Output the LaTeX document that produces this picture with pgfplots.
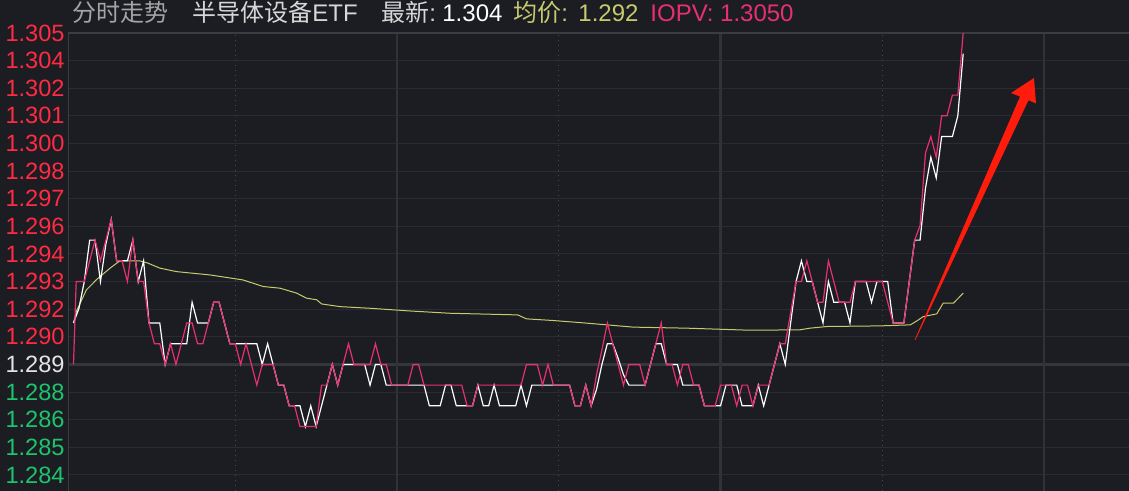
\documentclass[border=0pt]{standalone}
\usepackage{pgfplots}
\pgfplotsset{compat=1.18}
\usepackage{fontspec}
\setmainfont{Liberation Sans}
\newfontfamily\cjk{Noto Sans CJK SC}
\definecolor{bg}{RGB}{27,29,34}
\definecolor{gridc}{RGB}{42,44,49}
\definecolor{midc}{RGB}{52,54,59}
\definecolor{vgc}{RGB}{48,50,55}
\definecolor{dotc}{RGB}{70,72,76}
\definecolor{axc}{RGB}{58,60,64}
\definecolor{upc}{RGB}{255,42,68}
\definecolor{dnc}{RGB}{30,195,110}
\definecolor{midlab}{RGB}{228,228,228}
\definecolor{iopv}{RGB}{232,48,110}
\definecolor{avgc}{RGB}{200,202,110}
\definecolor{hdrgray}{RGB}{165,165,165}
\definecolor{hdrlight}{RGB}{215,215,215}
\definecolor{arrowc}{RGB}{255,28,12}
\begin{document}
\begin{tikzpicture}
\fill[bg] (0,0) rectangle (564.5pt,245.5pt);
\useasboundingbox (0,0) rectangle (564.5pt,245.5pt);
\begin{axis}[
  at={(34pt,0pt)}, anchor=south west, scale only axis,
  width=530.5pt, height=229pt,
  xmin=-1.02, xmax=195.75, ymin=1.282889, ymax=1.305,
  axis line style={draw=none},
  xtick=\empty,
  ytick={1.2836667,1.285,1.2863333,1.2876667,1.289,1.2903333,1.2916667,1.293,1.2943333,1.2956667,1.297,1.2983333,1.2996667,1.301,1.3023333,1.3036667,1.305},
  yticklabels={{\textcolor{dnc}{1.284}},{\textcolor{dnc}{1.285}},{\textcolor{dnc}{1.286}},{\textcolor{dnc}{1.288}},{\textcolor{midlab}{1.289}},{\textcolor{upc}{1.290}},{\textcolor{upc}{1.292}},{\textcolor{upc}{1.293}},{\textcolor{upc}{1.294}},{\textcolor{upc}{1.296}},{\textcolor{upc}{1.297}},{\textcolor{upc}{1.298}},{\textcolor{upc}{1.300}},{\textcolor{upc}{1.301}},{\textcolor{upc}{1.302}},{\textcolor{upc}{1.304}},{\textcolor{upc}{1.305}}},
  ymajorgrids, major grid style={draw=gridc, line width=0.5pt},
  major tick length=0pt,
  yticklabel style={font=\fontsize{11.8}{12}\selectfont, anchor=east, inner sep=0pt, xshift=-1.5pt},
  clip=true,
]
\draw[midc, line width=1.6pt] (axis cs:-1.02,1.289) -- (axis cs:195.75,1.289);
\draw[vgc, line width=1.3pt] (axis cs:60,1.282889) -- (axis cs:60,1.305);
\draw[vgc, line width=1.3pt] (axis cs:120,1.282889) -- (axis cs:120,1.305);
\draw[vgc, line width=1.3pt] (axis cs:180,1.282889) -- (axis cs:180,1.305);
\draw[dotc, line width=0.5pt, dash pattern=on 0.5pt off 2pt] (axis cs:30,1.282889) -- (axis cs:30,1.305);
\draw[dotc, line width=0.5pt, dash pattern=on 0.5pt off 2pt] (axis cs:90,1.282889) -- (axis cs:90,1.305);
\draw[dotc, line width=0.5pt, dash pattern=on 0.5pt off 2pt] (axis cs:150,1.282889) -- (axis cs:150,1.305);
\draw[axc, line width=1pt] (rel axis cs:0,0) -- (rel axis cs:0,1);
\draw[axc, line width=0.6pt] (rel axis cs:0,1) -- (rel axis cs:1,1);
% average price
\addplot[avgc, line width=0.5pt] coordinates {(0,1.2910)(0.6,1.2916)(2.4,1.2926)(4.3,1.2931)(6.8,1.29365)(8.6,1.2940)(12.3,1.2940)(13.8,1.29389)(16,1.29365)(19.1,1.29348)(25.3,1.29332)(31.4,1.29308)(35.2,1.29276)(38.3,1.29268)(41.4,1.29244)(43.2,1.2922)(45.1,1.29212)(46,1.29192)(49.4,1.29179)(55,1.29171)(62.4,1.29158)(69.8,1.29147)(82.4,1.29139)(84,1.2912)(88.9,1.29112)(93.9,1.29102)(98.9,1.29091)(103.8,1.2908)(113.7,1.29075)(125.5,1.29065)(134.7,1.29067)(136.6,1.29075)(139.7,1.29083)(149.6,1.29086)(155.2,1.29091)(156.4,1.2911)(157.6,1.29131)(160.1,1.29144)(161.3,1.29196)(163.2,1.29196)(165,1.29244)};
% price
\addplot[white, line width=0.6pt] coordinates {(0,1.291)(1,1.2917)(2,1.293)(3,1.295)(4,1.295)(5,1.293)(6,1.2948)(7,1.296)(8,1.294)(9,1.294)(10,1.294)(11,1.295)(12,1.293)(13,1.294)(14,1.291)(15,1.291)(16,1.291)(17,1.289)(18,1.290)(19,1.290)(20,1.290)(21,1.290)(22,1.292)(23,1.291)(24,1.291)(25,1.291)(26,1.292)(27,1.292)(28,1.291)(29,1.290)(30,1.290)(31,1.290)(32,1.290)(33,1.290)(34,1.290)(35,1.289)(36,1.290)(37,1.289)(38,1.288)(39,1.288)(40,1.287)(41,1.287)(42,1.287)(43,1.286)(44,1.287)(45,1.286)(46,1.287)(47,1.288)(48,1.289)(49,1.288)(50,1.289)(51,1.289)(52,1.289)(53,1.289)(54,1.289)(55,1.288)(56,1.289)(57,1.289)(58,1.288)(59,1.288)(60,1.288)(61,1.288)(62,1.288)(63,1.288)(64,1.288)(65,1.288)(66,1.287)(67,1.287)(68,1.287)(69,1.288)(70,1.288)(71,1.287)(72,1.287)(73,1.287)(74,1.287)(75,1.288)(76,1.287)(77,1.287)(78,1.288)(79,1.287)(80,1.287)(81,1.287)(82,1.287)(83,1.288)(84,1.287)(85,1.288)(86,1.288)(87,1.288)(88,1.288)(89,1.288)(90,1.288)(91,1.288)(92,1.288)(93,1.287)(94,1.287)(95,1.288)(96,1.287)(97,1.2878)(98,1.289)(99,1.290)(100,1.290)(101,1.2893)(102,1.2885)(103,1.288)(104,1.288)(105,1.288)(106,1.288)(107,1.289)(108,1.290)(109,1.290)(110,1.289)(111,1.289)(112,1.289)(113,1.288)(114,1.288)(115,1.288)(116,1.288)(117,1.287)(118,1.287)(119,1.287)(120,1.287)(121,1.288)(122,1.288)(123,1.288)(124,1.287)(125,1.287)(126,1.287)(127,1.288)(128,1.287)(129,1.288)(130,1.289)(131,1.290)(132,1.289)(133,1.291)(134,1.293)(135,1.294)(136,1.293)(137,1.293)(138,1.292)(139,1.291)(140,1.293)(141,1.292)(142,1.292)(143,1.292)(144,1.291)(145,1.293)(146,1.293)(147,1.293)(148,1.292)(149,1.293)(150,1.293)(151,1.293)(152,1.291)(153,1.291)(154,1.291)(155,1.293)(156,1.295)(157,1.295)(158,1.2975)(159,1.299)(160,1.298)(161,1.300)(162,1.300)(163,1.300)(164,1.301)(165,1.304)};
% IOPV
\addplot[iopv, line width=0.6pt] coordinates {(0,1.2890)(0.5,1.293)(2,1.293)(3,1.294)(4,1.295)(5,1.294)(6,1.295)(7,1.296)(8,1.294)(9,1.294)(10,1.293)(11,1.295)(12,1.293)(13,1.293)(14,1.291)(15,1.290)(16,1.290)(17,1.289)(18,1.290)(19,1.289)(20,1.290)(21,1.291)(22,1.291)(23,1.290)(24,1.290)(25,1.291)(26,1.292)(27,1.292)(28,1.291)(29,1.290)(30,1.290)(31,1.289)(32,1.290)(33,1.289)(34,1.288)(35,1.289)(36,1.289)(37,1.289)(38,1.288)(39,1.288)(40,1.287)(41,1.287)(42,1.286)(43,1.286)(44,1.286)(45,1.286)(46,1.288)(47,1.288)(48,1.289)(49,1.288)(50,1.289)(51,1.290)(52,1.289)(53,1.289)(54,1.289)(55,1.289)(56,1.290)(57,1.289)(58,1.289)(59,1.288)(60,1.288)(61,1.288)(62,1.288)(63,1.289)(64,1.289)(65,1.288)(66,1.288)(67,1.288)(68,1.288)(69,1.288)(70,1.288)(71,1.288)(72,1.288)(73,1.287)(74,1.287)(75,1.288)(76,1.288)(77,1.288)(78,1.288)(79,1.288)(80,1.288)(81,1.288)(82,1.288)(83,1.288)(84,1.289)(85,1.289)(86,1.289)(87,1.288)(88,1.289)(89,1.288)(90,1.288)(91,1.288)(92,1.288)(93,1.287)(94,1.287)(95,1.288)(96,1.287)(97,1.2885)(98,1.2897)(99,1.291)(100,1.290)(101,1.289)(102,1.288)(103,1.289)(104,1.289)(105,1.289)(106,1.288)(107,1.289)(108,1.290)(109,1.291)(110,1.289)(111,1.289)(112,1.288)(113,1.289)(114,1.289)(115,1.288)(116,1.288)(117,1.287)(118,1.287)(119,1.287)(120,1.288)(121,1.288)(122,1.288)(123,1.287)(124,1.288)(125,1.288)(126,1.287)(127,1.288)(128,1.288)(129,1.288)(130,1.289)(131,1.290)(132,1.290)(133,1.2915)(134,1.293)(135,1.293)(136,1.294)(137,1.293)(138,1.292)(139,1.292)(140,1.294)(141,1.293)(142,1.292)(143,1.292)(144,1.292)(145,1.293)(146,1.293)(147,1.293)(148,1.293)(149,1.293)(150,1.293)(151,1.292)(152,1.291)(153,1.291)(154,1.291)(155,1.293)(156,1.295)(157,1.2957)(158,1.2992)(159,1.300)(160,1.299)(161,1.301)(162,1.301)(163,1.302)(164,1.302)(165,1.305)};
\end{axis}
% red arrow annotation (pixel positions x/2, (491-y)/2)
\fill[arrowc] (457.3pt,75.5pt) -- (457.7pt,75.5pt) -- (514.25pt,195.4pt) -- (518pt,193.75pt) -- (517pt,206.5pt) -- (505.5pt,199pt) -- (510pt,197.2pt) -- cycle;
% header
\begin{scope}[every node/.style={anchor=base west, inner sep=0pt, font=\fontsize{12}{14}\selectfont}]
\node[text=hdrgray] at (36pt,234.5pt) {\cjk 分时走势};
\node[text=hdrlight] at (96pt,234.5pt) {{\cjk 半导体设备}ETF};
\node[text=hdrlight] at (190.5pt,234.5pt) {{\cjk 最新}:};
\node[text=white] at (221pt,234.5pt) {1.304};
\node[text=avgc] at (256.5pt,234.5pt) {{\cjk 均价}:};
\node[text=avgc] at (289pt,234.5pt) {1.292};
\node[text=iopv] at (325pt,234.5pt) {IOPV: 1.3050};
\end{scope}
\end{tikzpicture}
\end{document}
